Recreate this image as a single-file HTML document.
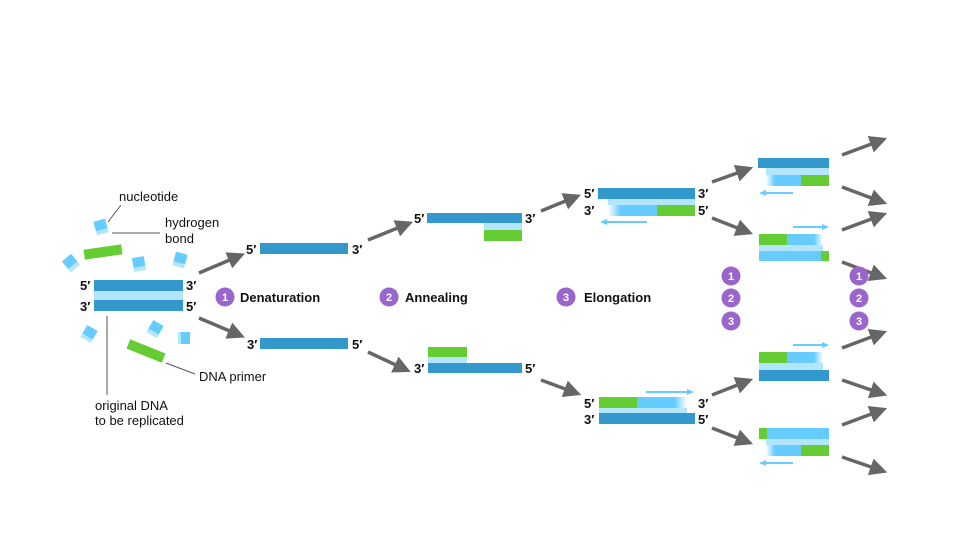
<!DOCTYPE html>
<html><head><meta charset="utf-8"><style>
body{margin:0;background:#fff}
svg text{font-family:"Liberation Sans",sans-serif;fill:#111}
.p{font-size:13px}
.b{font-size:13px;font-weight:bold}
.n{font-size:11px;font-weight:bold;fill:#fff}
</style></head><body>
<svg width="960" height="540" viewBox="0 0 960 540" xmlns="http://www.w3.org/2000/svg">
<defs>
<marker id="ah" markerWidth="5" markerHeight="5" refX="1" refY="2.5" orient="auto" markerUnits="strokeWidth">
<path d="M0,0 L5,2.5 L0,5 z" fill="#666"/></marker>
<linearGradient id="fr" x1="0" x2="1"><stop offset="0" stop-color="#66ccff"/><stop offset=".75" stop-color="#66ccff"/><stop offset="1" stop-color="#66ccff" stop-opacity="0"/></linearGradient>
<linearGradient id="fl" x1="0" x2="1"><stop offset="0" stop-color="#66ccff" stop-opacity="0"/><stop offset=".25" stop-color="#66ccff"/><stop offset="1" stop-color="#66ccff"/></linearGradient>
</defs>
<g stroke="#666" stroke-width="3.5" marker-end="url(#ah)">
<line x1="199" y1="273" x2="232" y2="259"/>
<line x1="199" y1="318" x2="232" y2="332"/>
<line x1="368" y1="240" x2="400" y2="227"/>
<line x1="368" y1="352" x2="398" y2="366"/>
<line x1="541" y1="211" x2="568" y2="200"/>
<line x1="541" y1="380" x2="568" y2="390"/>
<line x1="712" y1="182" x2="740" y2="172"/>
<line x1="712" y1="218" x2="740" y2="229"/>
<line x1="712" y1="395" x2="740" y2="384"/>
<line x1="712" y1="428" x2="740" y2="439"/>
<line x1="842" y1="155" x2="874" y2="143"/>
<line x1="842" y1="187" x2="874" y2="199"/>
<line x1="842" y1="230" x2="874" y2="218"/>
<line x1="842" y1="262" x2="874" y2="274"/>
<line x1="842" y1="348" x2="874" y2="336"/>
<line x1="842" y1="380" x2="874" y2="391"/>
<line x1="842" y1="425" x2="874" y2="413"/>
<line x1="842" y1="457" x2="874" y2="468"/>
</g>
<!-- nucleotides -->
<g>
<g transform="translate(101,227) rotate(-15)"><rect x="-6" y="-7" width="12" height="10" fill="#66ccff"/><rect x="-6" y="3" width="12" height="4" fill="#b3e5fc"/></g>
<g transform="translate(71,263) rotate(-40)"><rect x="-6" y="-7" width="12" height="10" fill="#66ccff"/><rect x="-6" y="3" width="12" height="4" fill="#b3e5fc"/></g>
<g transform="translate(139,264) rotate(-10)"><rect x="-6" y="-7" width="12" height="10" fill="#66ccff"/><rect x="-6" y="3" width="12" height="4" fill="#b3e5fc"/></g>
<g transform="translate(180,260) rotate(15)"><rect x="-6" y="-7" width="12" height="10" fill="#66ccff"/><rect x="-6" y="3" width="12" height="4" fill="#b3e5fc"/></g>
<g transform="translate(89,334) rotate(30)"><rect x="-6" y="-7" width="12" height="10" fill="#66ccff"/><rect x="-6" y="3" width="12" height="4" fill="#b3e5fc"/></g>
<g transform="translate(155,329) rotate(30)"><rect x="-6" y="-7" width="12" height="10" fill="#66ccff"/><rect x="-6" y="3" width="12" height="4" fill="#b3e5fc"/></g>
<g transform="translate(184,338) rotate(0)"><rect x="-6" y="-6" width="12" height="12" fill="#66ccff"/><rect x="-6" y="-6" width="3" height="12" fill="#b3e5fc"/></g>
<rect x="-19" y="-5" width="38" height="10" fill="#66cc33" transform="translate(103,252) rotate(-8)"/>
<rect x="-19" y="-5" width="38" height="10" fill="#66cc33" transform="translate(146,351) rotate(22)"/>
</g>
<g stroke="#555" stroke-width="1" fill="none">
<line x1="108" y1="222" x2="121" y2="205"/>
<line x1="112" y1="233" x2="160" y2="233"/>
<line x1="166" y1="363" x2="195" y2="374"/>
<line x1="107" y1="316" x2="107" y2="395"/>
</g>
<text class="p" x="119" y="201">nucleotide</text>
<text class="p" x="165" y="227">hydrogen</text>
<text class="p" x="165" y="243">bond</text>
<text class="p" x="199" y="381">DNA primer</text>
<text class="p" x="95" y="410">original DNA</text>
<text class="p" x="95" y="425">to be replicated</text>
<!-- original -->
<rect x="94" y="280" width="89" height="11" fill="#3399cc"/>
<rect x="94" y="291" width="89" height="9" fill="#b3e5fc"/>
<rect x="94" y="300" width="89" height="11" fill="#3399cc"/>
<text class="b" x="80" y="290">5′</text><text class="b" x="186" y="290">3′</text>
<text class="b" x="80" y="311">3′</text><text class="b" x="186" y="311">5′</text>
<!-- denaturation -->
<rect x="260" y="243" width="88" height="11" fill="#3399cc"/>
<text class="b" x="246" y="254">5′</text><text class="b" x="352" y="254">3′</text>
<rect x="260" y="338" width="88" height="11" fill="#3399cc"/>
<text class="b" x="247" y="349">3′</text><text class="b" x="352" y="349">5′</text>
<!-- annealing -->
<rect x="427" y="213" width="95" height="10" fill="#3399cc"/>
<rect x="484" y="223" width="38" height="7" fill="#b3e5fc"/>
<rect x="484" y="230" width="38" height="11" fill="#66cc33"/>
<text class="b" x="414" y="223">5′</text><text class="b" x="525" y="223">3′</text>
<rect x="428" y="347" width="39" height="10" fill="#66cc33"/>
<rect x="428" y="357" width="39" height="6" fill="#b3e5fc"/>
<rect x="428" y="363" width="94" height="10" fill="#3399cc"/>
<text class="b" x="414" y="373">3′</text><text class="b" x="525" y="373">5′</text>
<!-- elongation -->
<rect x="598" y="188" width="97" height="11" fill="#3399cc"/>
<rect x="608" y="199" width="87" height="6" fill="#b3e5fc"/>
<rect x="608" y="205" width="50" height="11" fill="url(#fl)"/>
<rect x="657" y="205" width="38" height="11" fill="#66cc33"/>
<line x1="605" y1="222" x2="647" y2="222" stroke="#66ccff" stroke-width="2"/><path d="M600,222 l7,-3 v6z" fill="#66ccff"/>
<text class="b" x="584" y="198">5′</text><text class="b" x="698" y="198">3′</text>
<text class="b" x="584" y="215">3′</text><text class="b" x="698" y="215">5′</text>
<rect x="599" y="397" width="38" height="11" fill="#66cc33"/>
<rect x="637" y="397" width="50" height="11" fill="url(#fr)"/>
<rect x="599" y="408" width="88" height="5" fill="#b3e5fc"/>
<rect x="599" y="413" width="96" height="11" fill="#3399cc"/>
<line x1="646" y1="392" x2="688" y2="392" stroke="#66ccff" stroke-width="2"/><path d="M694,392 l-7,-3 v6z" fill="#66ccff"/>
<text class="b" x="584" y="408">5′</text><text class="b" x="698" y="408">3′</text>
<text class="b" x="584" y="424">3′</text><text class="b" x="698" y="424">5′</text>
<!-- right blocks -->
<rect x="758" y="158" width="71" height="10" fill="#3399cc"/>
<rect x="766" y="168" width="63" height="7" fill="#b3e5fc"/>
<rect x="766" y="175" width="35" height="11" fill="url(#fl)"/>
<rect x="801" y="175" width="28" height="11" fill="#66cc33"/>
<line x1="764" y1="193" x2="793" y2="193" stroke="#66ccff" stroke-width="2"/><path d="M759,193 l7,-3 v6z" fill="#66ccff"/>

<line x1="793" y1="227" x2="823" y2="227" stroke="#66ccff" stroke-width="2"/><path d="M829,227 l-7,-3 v6z" fill="#66ccff"/>
<rect x="759" y="234" width="28" height="11" fill="#66cc33"/>
<rect x="787" y="234" width="36" height="11" fill="url(#fr)"/>
<rect x="759" y="245" width="64" height="6" fill="#b3e5fc"/>
<rect x="759" y="251" width="70" height="10" fill="#66ccff"/>
<rect x="821" y="251" width="8" height="10" fill="#66cc33"/>

<line x1="793" y1="345" x2="823" y2="345" stroke="#66ccff" stroke-width="2"/><path d="M829,345 l-7,-3 v6z" fill="#66ccff"/>
<rect x="759" y="352" width="28" height="11" fill="#66cc33"/>
<rect x="787" y="352" width="36" height="11" fill="url(#fr)"/>
<rect x="759" y="363" width="64" height="7" fill="#b3e5fc"/>
<rect x="759" y="370" width="70" height="11" fill="#3399cc"/>

<rect x="759" y="428" width="8" height="11" fill="#66cc33"/>
<rect x="767" y="428" width="62" height="11" fill="#66ccff"/>
<rect x="766" y="439" width="63" height="6" fill="#b3e5fc"/>
<rect x="766" y="445" width="35" height="11" fill="url(#fl)"/>
<rect x="801" y="445" width="28" height="11" fill="#66cc33"/>
<line x1="764" y1="463" x2="793" y2="463" stroke="#66ccff" stroke-width="2"/><path d="M759,463 l7,-3 v6z" fill="#66ccff"/>
<!-- circles -->
<g fill="#9966cc">
<circle cx="225" cy="297" r="9.5"/><circle cx="389" cy="297" r="9.5"/><circle cx="566" cy="297" r="9.5"/>
<circle cx="731" cy="276" r="9.5"/><circle cx="731" cy="298" r="9.5"/><circle cx="731" cy="321" r="9.5"/>
<circle cx="859" cy="276" r="9.5"/><circle cx="859" cy="298" r="9.5"/><circle cx="859" cy="321" r="9.5"/>
</g>
<g text-anchor="middle">
<text class="n" x="225" y="301">1</text><text class="n" x="389" y="301">2</text><text class="n" x="566" y="301">3</text>
<text class="n" x="731" y="280">1</text><text class="n" x="731" y="302">2</text><text class="n" x="731" y="325">3</text>
<text class="n" x="859" y="280">1</text><text class="n" x="859" y="302">2</text><text class="n" x="859" y="325">3</text>
</g>
<text class="b" x="240" y="302">Denaturation</text>
<text class="b" x="405" y="302">Annealing</text>
<text class="b" x="584" y="302">Elongation</text>
</svg>
</body></html>
